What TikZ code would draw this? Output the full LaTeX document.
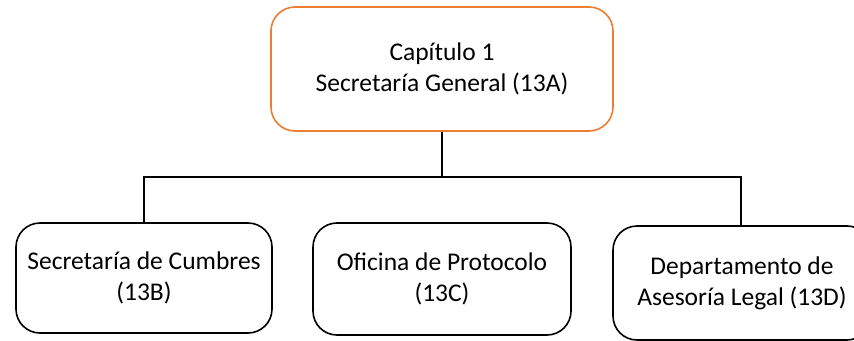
\documentclass[tikz,border=0pt]{standalone}
\usepackage{fontspec}
\setmainfont{Carlito}
\definecolor{boxorange}{HTML}{ED7D31}
\begin{document}
\begin{tikzpicture}[x=1pt,y=-1pt,
  orgbox/.style={draw=black, line width=1.6pt, rounded corners=24pt, fill=white,
    align=center, font=\fontsize{25.5}{31}\selectfont, inner sep=0pt},
  topbox/.style={orgbox, draw=boxorange},
  link/.style={draw=black, line width=1.6pt}]
\useasboundingbox (0,0) rectangle (854,340);
\begin{scope}
\clip (0,0) rectangle (854,340);
\node[topbox, minimum width=342pt, minimum height=124pt] (top) at (442,69) {Capítulo 1\\Secretaría General (13A)};
\node[orgbox, minimum width=256pt, minimum height=110pt] (b) at (144,278) {Secretaría de Cumbres\\(13B)};
\node[orgbox, minimum width=258pt, minimum height=112pt] (c) at (442,279) {Oficina de Protocolo\\(13C)};
\node[orgbox, minimum width=258pt, minimum height=114pt] (d) at (742,283) {Departamento de\\Asesoría Legal (13D)};
\coordinate (j) at (442,177);
\draw[link] (top.south) -- (j);
\draw[link] (b.north -| 144,0) |- (j) -| (d.north -| 741,0);
\end{scope}
\end{tikzpicture}
\end{document}
